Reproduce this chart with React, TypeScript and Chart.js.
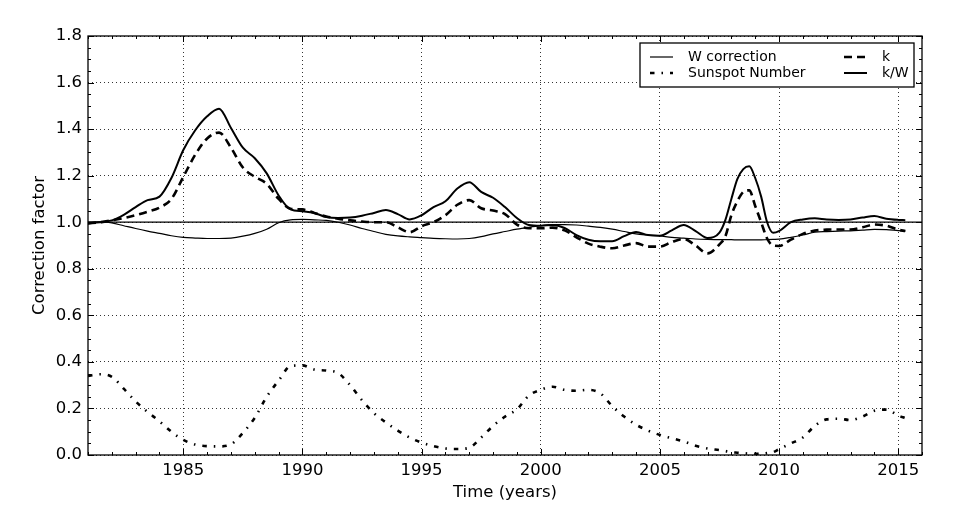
import { useEffect, useRef } from "react";
import { Chart, registerables } from "chart.js";

Chart.register(...registerables);

const FONT = "'DejaVu Sans', sans-serif";

// time axis (years), finer steps around the 2008 peak
const years = [
  1981, 1981.5, 1982, 1982.5, 1983, 1983.5, 1984, 1984.5, 1985, 1985.5,
  1986, 1986.5, 1987, 1987.5, 1988, 1988.5, 1989, 1989.5, 1990, 1990.5,
  1991, 1991.5, 1992, 1992.5, 1993, 1993.5, 1994, 1994.5, 1995, 1995.5,
  1996, 1996.5, 1997, 1997.5, 1998, 1998.5, 1999, 1999.5, 2000, 2000.5,
  2001, 2001.5, 2002, 2002.5, 2003, 2003.5, 2004, 2004.5, 2005, 2005.5,
  2006, 2006.5, 2007, 2007.5, 2007.75, 2008, 2008.25, 2008.5, 2008.75, 2009,
  2009.25, 2009.5, 2009.75, 2010, 2010.5, 2011, 2011.5, 2012, 2012.5, 2013,
  2013.5, 2014, 2014.5, 2015, 2015.3,
];

const wCorrection = [
  1.0, 1.002, 0.997, 0.985, 0.973, 0.962, 0.952, 0.942, 0.935, 0.932,
  0.93, 0.93, 0.932, 0.94, 0.952, 0.97, 0.998, 1.01, 1.012, 1.01,
  1.008, 1.0, 0.988, 0.973, 0.96, 0.948, 0.941, 0.937, 0.934, 0.931,
  0.929, 0.928, 0.93, 0.938, 0.95, 0.96, 0.97, 0.978, 0.985, 0.99,
  0.99, 0.988, 0.983, 0.978, 0.97, 0.96, 0.95, 0.945, 0.941, 0.935,
  0.932, 0.928, 0.926, 0.925, 0.925, 0.925, 0.924, 0.924, 0.924, 0.924,
  0.924, 0.925, 0.926, 0.927, 0.935, 0.945, 0.957, 0.96, 0.962, 0.963,
  0.966, 0.969, 0.968, 0.964, 0.962,
];

const sunspot = [
  0.34, 0.347, 0.336, 0.285, 0.23, 0.185, 0.145, 0.1, 0.065, 0.045,
  0.038, 0.037, 0.046, 0.095, 0.16, 0.25, 0.32, 0.382, 0.385, 0.367,
  0.363, 0.352, 0.3, 0.235, 0.18, 0.14, 0.105, 0.075, 0.053, 0.038,
  0.028, 0.026, 0.031, 0.075, 0.125, 0.165, 0.196, 0.255, 0.28, 0.293,
  0.28, 0.276, 0.28, 0.265, 0.21, 0.165, 0.13, 0.105, 0.086, 0.072,
  0.058, 0.04, 0.028, 0.021, 0.017, 0.012, 0.01, 0.008, 0.006, 0.005,
  0.005, 0.008, 0.012, 0.025, 0.05, 0.075, 0.125, 0.153, 0.156, 0.15,
  0.165, 0.19, 0.195, 0.17, 0.158,
];

const kFactor = [
  0.995, 1.0, 1.008, 1.018, 1.03, 1.045, 1.063, 1.1, 1.195, 1.29,
  1.36, 1.385, 1.32, 1.235, 1.195, 1.165, 1.1, 1.058, 1.055, 1.04,
  1.025, 1.015, 1.008, 1.003, 1.0, 1.0, 0.978, 0.957, 0.983, 1.0,
  1.03, 1.075, 1.095, 1.06, 1.05, 1.035, 0.99, 0.974, 0.974, 0.977,
  0.965, 0.935, 0.908, 0.895, 0.888, 0.9, 0.91, 0.895, 0.895, 0.915,
  0.928, 0.9, 0.866, 0.905, 0.94, 1.03, 1.09, 1.13, 1.137, 1.07,
  1.0, 0.93, 0.9, 0.898, 0.925, 0.95, 0.964, 0.968, 0.969, 0.969,
  0.978, 0.99, 0.985, 0.968, 0.962,
];

const kOverW = [
  0.995, 1.0, 1.008, 1.032, 1.065, 1.095, 1.11, 1.19, 1.31, 1.395,
  1.455, 1.488, 1.405, 1.32, 1.275, 1.21, 1.115, 1.055, 1.047, 1.04,
  1.022, 1.018, 1.02, 1.028, 1.04, 1.052, 1.035, 1.012, 1.03, 1.065,
  1.09, 1.145, 1.172, 1.13, 1.105, 1.065, 1.018, 0.988, 0.985, 0.988,
  0.975, 0.945, 0.925, 0.918, 0.918, 0.94, 0.958, 0.945, 0.942, 0.965,
  0.988, 0.962, 0.932, 0.955, 1.01, 1.1, 1.185, 1.228, 1.24, 1.19,
  1.11, 1.0, 0.955, 0.962, 1.0, 1.012, 1.017, 1.012, 1.01, 1.012,
  1.02, 1.027, 1.015, 1.01, 1.009,
];

const xTickValues = [1985, 1990, 1995, 2000, 2005, 2010, 2015];
const refLevel = 1.0;
const xMin = 1981;
const xMax = 2016;
const yMin = 0;
const yMax = 1.8;

const pts = (vals: number[]) => years.map((x, i) => ({ x, y: vals[i] }));

// frame, inward ticks on all sides, and the legend box
const framePlugin = {
  id: "frame",
  afterDatasetsDraw(chart: any) {
    const { ctx, chartArea: a, scales } = chart;
    const xs = scales.x;
    const ys = scales.y;
    ctx.save();
    ctx.strokeStyle = "#000";
    ctx.lineWidth = 1;
    ctx.beginPath();
    for (let yr = Math.ceil(xs.min); yr <= xs.max; yr++) {
      const px = Math.round(xs.getPixelForValue(yr)) + 0.5;
      const len = yr % 5 === 0 ? 6 : 3;
      ctx.moveTo(px, a.bottom);
      ctx.lineTo(px, a.bottom - len);
      ctx.moveTo(px, a.top);
      ctx.lineTo(px, a.top + len);
    }
    for (let i = 0; i <= 36; i++) {
      const py = Math.round(ys.getPixelForValue(i * 0.05)) + 0.5;
      const len = i % 4 === 0 ? 6 : 3;
      ctx.moveTo(a.left, py);
      ctx.lineTo(a.left + len, py);
      ctx.moveTo(a.right, py);
      ctx.lineTo(a.right - len, py);
    }
    ctx.stroke();
    ctx.lineWidth = 1.3;
    ctx.strokeRect(a.left, a.top, a.right - a.left, a.bottom - a.top);

    // legend
    const bx = a.right - 282;
    const by = a.top + 7;
    const bw = 274;
    const bh = 44;
    ctx.fillStyle = "#fff";
    ctx.fillRect(bx, by, bw, bh);
    ctx.lineWidth = 1.3;
    ctx.strokeRect(bx, by, bw, bh);
    const items = chart.data.datasets.filter((d: any) => d.label);
    const slots = [
      [bx + 10, by + 14],
      [bx + 10, by + 30],
      [bx + 204, by + 14],
      [bx + 204, by + 30],
    ];
    ctx.font = "14px " + FONT;
    ctx.textBaseline = "middle";
    items.forEach((d: any, i: number) => {
      const [lx, ly] = slots[i];
      ctx.save();
      ctx.strokeStyle = "#000";
      ctx.lineWidth = d.borderWidth;
      ctx.setLineDash(d.borderDash || []);
      ctx.beginPath();
      ctx.moveTo(lx, ly);
      ctx.lineTo(lx + 23, ly);
      ctx.stroke();
      ctx.restore();
      ctx.fillStyle = "#000";
      ctx.fillText(d.label, lx + 38, ly);
    });
    ctx.restore();
  },
};

export default function App() {
  const canvasRef = useRef<HTMLCanvasElement | null>(null);

  useEffect(() => {
    if (!canvasRef.current) return;
    const ctx = canvasRef.current.getContext("2d");
    if (!ctx) return;

    const base = {
      borderColor: "#000",
      backgroundColor: "#000",
      pointRadius: 0,
      fill: false,
      cubicInterpolationMode: "monotone" as const,
    };

    const chart = new Chart(ctx, {
      type: "line",
      data: {
        datasets: [
          { ...base, label: "W correction", data: pts(wCorrection), borderWidth: 1.2 },
          {
            ...base,
            label: "Sunspot Number",
            data: pts(sunspot),
            borderWidth: 2.6,
            borderDash: [4.5, 7, 1.5, 7],
          },
          { ...base, label: "k", data: pts(kFactor), borderWidth: 2.6, borderDash: [8, 5] },
          { ...base, label: "k/W", data: pts(kOverW), borderWidth: 2 },
          {
            ...base,
            label: "",
            data: [
              { x: xMin, y: refLevel },
              { x: xMax, y: refLevel },
            ],
            borderWidth: 1.3,
          },
        ],
      },
      options: {
        animation: false,
        responsive: true,
        maintainAspectRatio: false,
        layout: { padding: { top: 36, right: 35, left: 0, bottom: 0 } },
        plugins: { legend: { display: false }, tooltip: { enabled: false } },
        scales: {
          x: {
            type: "linear",
            min: xMin,
            max: xMax,
            afterFit: (s: any) => {
              s.height = 68;
            },
            afterBuildTicks: (s: any) => {
              s.ticks = xTickValues.map((value) => ({ value }));
            },
            ticks: {
              padding: 6,
              color: "#000",
              font: { family: FONT, size: 16.5 },
              callback: (v: any) => String(v),
            },
            grid: { color: "#000", lineWidth: 0.8, drawTicks: false },
            border: { display: false, dash: [1, 3] },
            title: {
              display: true,
              text: "Time (years)",
              color: "#000",
              font: { family: FONT, size: 16.5 },
              padding: { top: 0, bottom: 20 },
            },
          },
          y: {
            min: yMin,
            max: yMax,
            afterFit: (s: any) => {
              s.width = 88;
            },
            ticks: {
              stepSize: 0.2,
              padding: 6,
              color: "#000",
              font: { family: FONT, size: 16.5 },
              callback: (v: any) => Number(v).toFixed(1),
            },
            grid: { color: "#000", lineWidth: 0.8, drawTicks: false },
            border: { display: false, dash: [1, 3] },
            title: {
              display: true,
              text: "Correction factor",
              color: "#000",
              font: { family: FONT, size: 16.5 },
              padding: { top: 30, bottom: 0 },
            },
          },
        },
      },
      plugins: [framePlugin],
    });

    return () => chart.destroy();
  }, []);

  return (
    <div style={{ position: "fixed", left: 0, top: 0, width: 957, height: 523, background: "#fff" }}>
      <canvas ref={canvasRef} />
    </div>
  );
}
